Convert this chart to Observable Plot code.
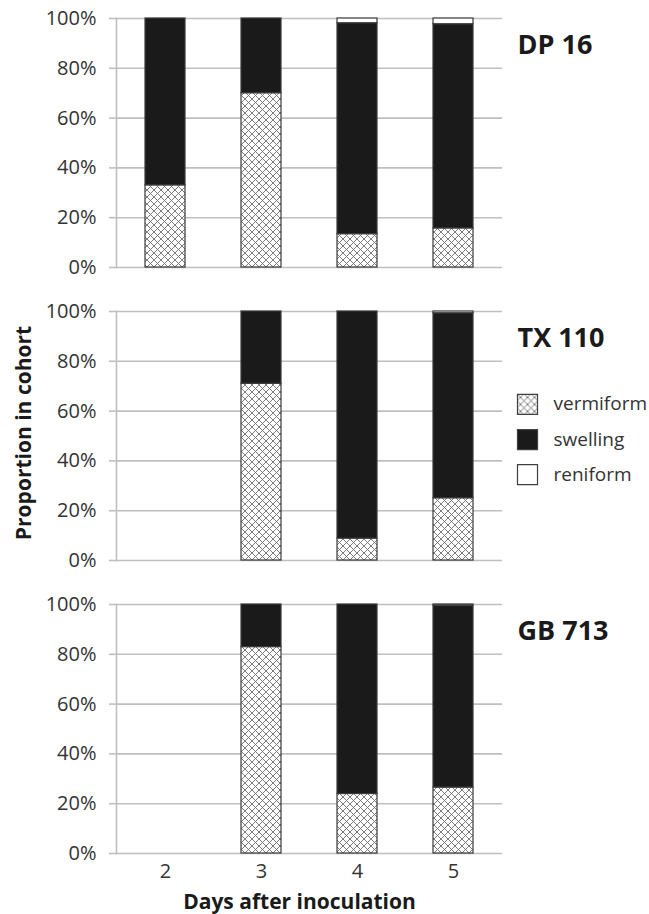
<!DOCTYPE html>
<html>
<head>
<meta charset="utf-8">
<script src="https://cdn.jsdelivr.net/npm/d3@7"></script>
<script src="https://cdn.jsdelivr.net/npm/@observablehq/plot@0.6"></script>
<style>
  body { margin: 0; background: #fff; }
  #chart svg { display: block; }
</style>
</head>
<body>
<div id="chart"></div>
<script>
// ---- data (proportion in cohort, %) ----
const days = ["2", "3", "4", "5"];
const cultivars = ["DP 16", "TX 110", "GB 713"];
const stages = ["vermiform", "swelling", "reniform"];

const dp16Vermiform = [33, 70, 13.4, 15.7];
const dp16Swelling  = [67, 30, 84.7, 82.0];
const dp16Reniform  = [0, 0, 1.9, 2.3];

const tx110Vermiform = [0, 71.0, 8.8, 25.0];
const tx110Swelling  = [0, 29.0, 91.2, 74.3];
const tx110Reniform  = [0, 0, 0, 0.7];

const gb713Vermiform = [0, 82.9, 23.9, 26.5];
const gb713Swelling  = [0, 17.1, 76.1, 73.0];
const gb713Reniform  = [0, 0, 0, 0.5];

const yTicks = [0, 20, 40, 60, 80, 100];
const xLabel = "Days after inoculation";
const yLabel = "Proportion in cohort";

const seriesByCultivar = {
  "DP 16":  [dp16Vermiform, dp16Swelling, dp16Reniform],
  "TX 110": [tx110Vermiform, tx110Swelling, tx110Reniform],
  "GB 713": [gb713Vermiform, gb713Swelling, gb713Reniform]
};

const rows = [];
for (const c of cultivars) {
  days.forEach((d, i) => {
    stages.forEach((s, k) => {
      const v = seriesByCultivar[c][k][i];
      if (v > 0) rows.push({cultivar: c, day: d, stage: s, value: v});
    });
  });
}

const stageFills = ["url(#xhatch)", "#1a1a1a", "#ffffff"];
const legendDy = [-31.6, 3.6, 38.6];

const legendMarks = [];
stages.forEach((s, i) => {
  legendMarks.push(Plot.dot(["TX 110"], {
    fy: d => d, frameAnchor: "right", symbol: "square", r: 11.3,
    fill: stageFills[i], stroke: "#404040", strokeWidth: 1.2,
    dx: 25, dy: legendDy[i]
  }));
  legendMarks.push(Plot.text(["TX 110"], {
    fy: d => d, frameAnchor: "right", text: () => s,
    textAnchor: "start", lineAnchor: "middle",
    dx: 51, dy: legendDy[i], fontSize: 19, fill: "#333"
  }));
});

const chart = Plot.plot({
  width: 649,
  height: 914,
  marginLeft: 116,
  marginRight: 147,
  marginTop: 17,
  marginBottom: 60,
  style: {fontFamily: "'Open Sans', sans-serif", fontSize: "19px", color: "#333", background: "#fff"},
  x: {domain: days, paddingInner: 0.585, paddingOuter: 0.2925},
  y: {domain: [0, 100]},
  fy: {domain: cultivars, paddingInner: 0.149, paddingOuter: 0, axis: null},
  color: {domain: stages, range: stageFills},
  marks: [
    Plot.gridY(yTicks, {stroke: "#bfbfbf", strokeWidth: 1.6, strokeOpacity: 1}),
    Plot.frame({anchor: "left", stroke: "#bfbfbf", strokeWidth: 1.6}),
    Plot.barY(rows, Plot.stackY({
      x: "day", y: "value", fill: "stage", fy: "cultivar",
      stroke: "#3a3a3a", strokeWidth: 1.2
    })),
    Plot.axisY({ticks: yTicks, tickFormat: d => d + "%", tickSize: 7, tickPadding: 13,
      stroke: "#bfbfbf", strokeWidth: 1.6, strokeOpacity: 1, fill: "#333", label: null, fontSize: 20}),
    Plot.axisX({tickSize: 0, tickPadding: 10, fill: "#333", label: null, fontSize: 20}),
    Plot.text(cultivars, {fy: d => d, text: d => d, frameAnchor: "top-right",
      textAnchor: "start", lineAnchor: "middle", dx: 15, dy: 27,
      fontSize: 27, fontWeight: "bold", fill: "#1a1a1a"}),
    ...legendMarks,
    Plot.text(["TX 110"], {fy: d => d, text: () => yLabel, frameAnchor: "left",
      rotate: -90, dx: -92, dy: -3, textAnchor: "middle", lineAnchor: "middle",
      fontSize: 21, fontWeight: "bold", fill: "#1a1a1a"}),
    Plot.text(["GB 713"], {fy: d => d, text: () => xLabel, frameAnchor: "bottom",
      dy: 49, dx: -10, textAnchor: "middle", lineAnchor: "middle",
      fontSize: 21, fontWeight: "bold", fill: "#1a1a1a"})
  ]
});

// crosshatch pattern definition
const defs = d3.select(chart).insert("defs", ":first-child");
const pat = defs.append("pattern").attr("id", "xhatch")
  .attr("patternUnits", "userSpaceOnUse").attr("width", 7).attr("height", 7);
pat.append("rect").attr("width", 7).attr("height", 7).attr("fill", "#fff");
pat.append("path").attr("d", "M0,0L7,7M7,0L0,7M-1,6L1,8M6,-1L8,1M-1,1L1,-1M6,8L8,6")
  .attr("stroke", "#6e6e6e").attr("stroke-width", 0.9).attr("fill", "none");

document.getElementById("chart").append(chart);
</script>
</body>
</html>
